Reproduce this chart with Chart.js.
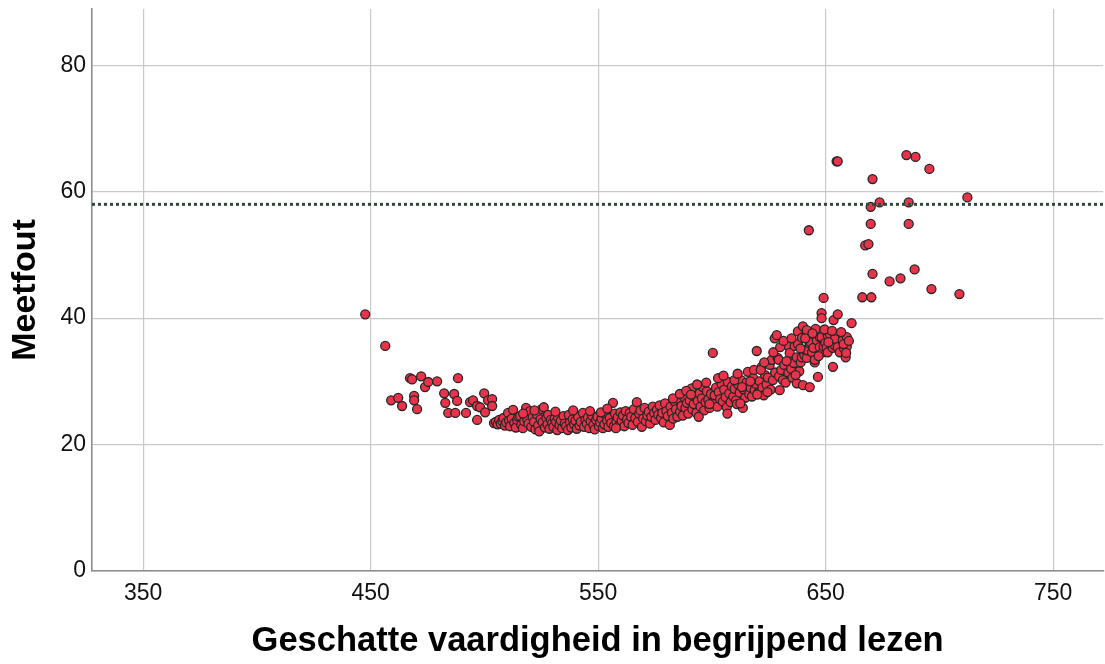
<!DOCTYPE html>
<html>
<head>
<meta charset="utf-8">
<script src="https://cdn.jsdelivr.net/npm/chart.js@4.4.1/dist/chart.umd.min.js"></script>
<style>
  html, body { margin: 0; padding: 0; background: #ffffff; overflow: hidden; }
  #wrap { width: 1109px; height: 664px; position: relative; }
</style>
</head>
<body>
<div id="wrap"><canvas id="c"></canvas></div>
<script>
// Geschatte vaardigheid (x) en bijbehorende meetfout (y), per leerling
const vaardigheid = [
  447.6, 456.4, 459.0, 462.1, 463.8, 467.3, 468.2, 469.1, 469.1, 470.4, 472.2, 473.9, 475.3, 479.2, 482.3, 482.8,
  484.1, 486.7, 487.2, 488.0, 488.4, 491.9, 493.7, 495.0, 496.8, 496.8, 498.1, 499.9, 500.3, 501.6, 503.4, 503.4,
  504.2, 505.0, 505.8, 506.5, 507.2, 507.9, 508.4, 509.0, 509.6, 510.4, 510.8, 511.3, 512.0, 512.6, 513.1, 513.8, 514.4, 514.9,
  515.7, 516.2, 516.9, 517.5, 518.3, 518.8, 519.4, 520.1, 520.6, 521.2, 521.8, 522.4, 523.0, 523.6, 524.1, 524.7,
  525.2, 525.6, 526.1, 526.6, 527.2, 527.7, 528.0, 528.6, 529.2, 529.8,
  530.3, 530.9, 531.5, 532.0, 532.4, 533.0, 533.6, 534.2, 534.8, 535.3, 535.9, 536.7, 537.1, 537.6, 538.2, 538.8,
  539.4, 540.0, 540.6, 541.2, 541.8, 542.4, 543.3, 543.8, 544.4, 545.0,
  545.5, 546.1, 546.7, 547.3, 547.9, 548.5, 549.1, 549.7, 550.3, 550.9, 551.5, 552.1, 552.7, 553.3, 553.9, 554.5,
  555.1, 555.7, 556.5, 556.9, 557.4, 558.0, 558.6, 559.2, 559.8,
  560.3, 560.9, 561.5, 562.1, 562.7, 563.3, 563.9, 564.5, 565.1, 565.7, 566.3, 567.0, 567.4, 568.0, 568.6, 569.2,
  569.8, 570.4, 571.0, 571.6, 572.2, 572.8, 573.4, 574.0, 574.6,
  575.2, 575.8, 576.4, 577.0, 577.6, 578.2, 578.8, 579.4, 580.0, 580.6, 581.5, 581.8, 582.4, 583.0, 583.6, 584.2,
  584.8, 585.4, 586.0, 586.6, 587.2, 587.8, 588.4, 589.0, 589.6,
  590.2, 591.1, 591.4, 592.0, 592.6, 593.2, 593.8, 594.6, 595.0, 595.6, 596.0, 596.6, 597.2, 597.8, 598.4, 599.0, 599.6,
  600.4, 600.6, 601.2, 601.8, 602.4, 603.0, 603.6, 604.2, 604.8, 605.4, 606.0, 606.5, 607.0, 607.6, 608.2, 608.8, 609.4, 610.0,
  610.6, 611.0, 611.6, 612.2, 612.8, 613.6, 614.0, 614.6, 615.2, 615.8, 616.4, 617.0, 617.6, 618.2, 618.8, 619.4, 619.7,
  620.4, 621.0, 621.9, 622.2, 622.8, 623.4, 624.0, 624.6, 625.4, 625.8, 626.3, 626.8, 627.6, 627.8, 628.5, 628.9, 629.4, 629.8, 629.5,
  630.5, 631.2, 631.8, 632.4, 633.3, 633.6, 634.2, 634.2, 634.8, 635.4, 636.0, 636.4, 637.3, 637.3, 637.8, 637.8,
  638.4, 639.0, 639.5, 640.0, 640.0,
  640.6, 641.2, 641.7, 641.7, 642.1, 642.6, 643.0, 643.0, 643.4, 644.0, 644.6, 645.2, 645.2, 645.6, 646.1, 646.6,
  647.4, 647.4, 648.2, 648.2, 648.2, 648.7, 649.1, 649.1, 649.8,
  650.5, 650.9, 650.9, 651.8, 652.4, 653.1, 653.2, 653.5, 654.0, 654.0, 654.8, 655.3, 655.3, 655.3, 656.2, 657.5,
  658.1, 658.8, 659.3, 659.3, 661.4,
  666.1, 667.4, 668.8, 669.8, 669.8, 670.1, 670.6, 670.6, 673.7, 678.1, 682.9, 685.5, 686.5, 686.5, 689.1, 689.5,
  695.6, 696.5, 708.8, 712.3,
  582.9, 585.9, 588.7, 590.8, 593.5, 594.2, 597.5, 598.9,
  602.7, 605.1, 606.8, 609.9, 611.3, 613.2, 616.9, 618.5, 619.9, 612.5,
  621.5, 623.0, 624.4, 627.0, 630.0, 631.5, 632.8, 635.0, 636.8, 638.9, 639.6,
  641.0, 644.2, 646.9, 649.5, 651.2, 652.8, 656.8, 657.9, 660.2, 659.0,
  517.0, 522.0, 531.2, 539.0, 546.4, 551.2, 554.0, 557.8
];
const meetfout = [
  40.6, 35.6, 27.0, 27.4, 26.1, 30.5, 30.3, 27.7, 27.0, 25.6, 30.8, 29.1, 29.9, 30.0, 28.1, 26.6,
  25.0, 28.0, 25.0, 26.9, 30.5, 25.0, 26.7, 27.0, 26.1, 23.9, 25.9, 28.1, 25.1, 27.0, 27.2, 26.1,
  23.4, 23.6, 23.2, 23.9, 23.3, 23.7, 24.2, 23.0, 23.5, 25.0, 23.8, 22.9, 24.1, 25.5, 23.4, 22.7, 23.9, 24.4,
  24.5, 23.1, 22.6, 23.7, 25.8, 24.0, 23.3, 25.3, 22.8, 24.3, 23.6, 22.4, 24.8, 23.0, 22.1, 24.0,
  25.6, 23.5, 25.9, 22.7, 24.2, 23.2, 24.7, 22.5, 23.9, 23.4,
  22.8, 24.1, 23.6, 22.3, 24.3, 23.1, 23.8, 22.6, 24.5, 23.3, 22.9, 22.3, 24.7, 23.5, 22.7, 24.0,
  23.2, 23.8, 22.5, 24.4, 23.0, 23.6, 25.0, 22.8, 23.9, 23.3,
  24.3, 22.6, 23.7, 24.6, 23.1, 22.4, 23.9, 24.4, 22.9, 23.5, 24.1, 22.6, 23.2, 24.7, 23.8, 22.8,
  24.2, 23.4, 26.6, 22.9, 24.9, 23.6, 24.3, 23.0, 25.1,
  23.8, 24.6, 22.9, 25.3, 24.0, 23.4, 25.0, 24.4, 23.1, 25.6, 24.2, 26.7, 23.6, 24.9, 25.4, 22.8,
  24.1, 25.8, 23.7, 24.6, 25.2, 23.3, 24.4, 26.0, 25.0,
  23.9, 25.5, 24.7, 26.2, 24.2, 25.0, 23.5, 26.5, 25.3, 24.5, 23.1, 26.0, 25.0, 24.1, 26.8, 25.6,
  24.4, 27.2, 25.2, 26.1, 24.6, 27.5, 25.8, 26.6, 24.9,
  27.0, 28.9, 25.6, 26.4, 27.6, 25.0, 26.9, 28.1, 26.0, 27.3, 29.1, 25.4, 26.7, 28.4, 27.1, 25.8, 28.0,
  34.5, 26.5, 27.8, 29.0, 26.0, 28.3, 27.2, 29.6, 26.8, 28.7, 27.5, 25.9, 29.9, 28.1, 26.7, 29.2, 27.6, 28.8,
  27.0, 26.4, 29.5, 28.2, 30.2, 25.8, 28.7, 27.4, 29.8, 31.5, 28.0, 29.0, 27.6, 30.5, 28.6, 29.6, 34.8,
  28.2, 30.0, 32.3, 29.0, 27.8, 31.0, 29.5, 30.6, 32.6, 28.7, 33.4, 30.2, 36.8, 31.4, 37.3, 33.7, 33.4, 28.6, 30.8,
  31.8, 30.2, 32.6, 29.8, 35.7, 31.4, 33.4, 34.5, 32.0, 30.6, 32.9, 35.6, 29.7, 33.8, 35.9, 37.9,
  31.6, 33.0, 33.8, 38.7, 29.4,
  34.2, 35.0, 33.7, 38.1, 34.9, 53.9, 36.0, 29.1, 36.2, 34.6, 35.3, 33.0, 33.4, 38.3, 36.5, 30.7,
  37.0, 35.4, 37.0, 40.8, 40.0, 34.6, 43.2, 35.5, 36.1,
  35.4, 37.3, 34.6, 37.5, 36.0, 35.3, 32.3, 39.7, 35.7, 36.7, 64.8, 64.8, 40.6, 35.4, 34.6, 36.5,
  35.2, 33.8, 37.0, 35.5, 39.2,
  43.3, 51.5, 51.7, 57.6, 54.9, 43.3, 47.0, 62.0, 58.3, 45.8, 46.3, 65.8, 58.3, 54.9, 47.7, 65.5,
  63.6, 44.6, 43.8, 59.1,
  27.3, 28.0, 28.5, 27.9, 29.5, 24.4, 29.8, 26.4,
  30.5, 30.9, 24.9, 30.2, 31.2, 29.1, 30.0, 31.8, 27.9, 26.5,
  31.8, 33.0, 28.3, 34.6, 35.4, 36.4, 33.2, 36.8, 31.0, 35.2, 36.9,
  36.8, 37.6, 34.0, 38.2, 36.2, 38.0, 37.8, 35.9, 36.4, 34.5,
  24.9, 25.4, 25.2, 25.4, 25.3, 25.1, 25.7, 22.6
];

// Referentielijn en as-indeling
const referentieMeetfout = 58;
const xBereik = [327.5, 772];
const yBereik = [0, 88.9];
const xTicks = [350, 450, 550, 650, 750];
const yTicks = [0, 20, 40, 60, 80];

const punten = vaardigheid.map((v, i) => ({ x: v, y: meetfout[i] }));

const gridKleur = '#c9c9c9';
const asKleur = '#8c8c8c';
const tekstFont = 'Liberation Sans, Arial, Helvetica, sans-serif';

new Chart(document.getElementById('c'), {
  type: 'scatter',
  data: {
    datasets: [
      {
        label: 'Meetfout',
        data: punten,
        pointRadius: 4.5,
        pointHoverRadius: 4.5,
        pointBackgroundColor: '#e8334a',
        pointBorderColor: '#262626',
        pointBorderWidth: 1.3,
        order: 2
      },
      {
        label: 'Referentie',
        type: 'line',
        data: [
          { x: xBereik[0], y: referentieMeetfout },
          { x: xBereik[1], y: referentieMeetfout }
        ],
        borderColor: '#33483d',
        borderWidth: 3,
        borderDash: [3, 3],
        pointRadius: 0,
        fill: false,
        order: 1
      }
    ]
  },
  options: {
    responsive: true,
    maintainAspectRatio: false,
    animation: false,
    layout: { padding: { top: 9, right: 1, left: 0, bottom: 0 } },
    plugins: {
      legend: { display: false },
      tooltip: { enabled: false }
    },
    scales: {
      x: {
        type: 'linear',
        min: xBereik[0],
        max: xBereik[1],
        afterBuildTicks: (scale) => { scale.ticks = xTicks.map(v => ({ value: v })); },
        afterFit: (scale) => {
          scale.height = 93;
          scale.paddingLeft = 0;
          scale.paddingRight = 0;
        },
        grid: { color: gridKleur, lineWidth: 1.2, drawTicks: false },
        border: { display: true, color: asKleur, width: 1.6 },
        ticks: {
          color: '#111111',
          padding: 9,
          maxRotation: 0,
          font: { family: tekstFont, size: 23 }
        },
        title: {
          display: true,
          text: 'Geschatte vaardigheid in begrijpend lezen',
          color: '#000000',
          font: { family: tekstFont, size: 34.5, weight: 'bold', lineHeight: 1.2 },
          padding: { top: 0, bottom: 2 }
        }
      },
      y: {
        type: 'linear',
        min: yBereik[0],
        max: yBereik[1],
        afterBuildTicks: (scale) => { scale.ticks = yTicks.map(v => ({ value: v })); },
        afterFit: (scale) => {
          scale.width = 92;
          scale.paddingTop = 0;
          scale.paddingBottom = 0;
        },
        grid: { color: gridKleur, lineWidth: 1.2, drawTicks: false },
        border: { display: true, color: asKleur, width: 1.6 },
        ticks: {
          color: '#111111',
          padding: 6,
          font: { family: tekstFont, size: 23 }
        },
        title: {
          display: true,
          text: 'Meetfout',
          color: '#000000',
          font: { family: tekstFont, size: 34, weight: 'bold', lineHeight: 1.2 },
          padding: { top: 5, bottom: 0 }
        }
      }
    }
  }
});
</script>
</body>
</html>
